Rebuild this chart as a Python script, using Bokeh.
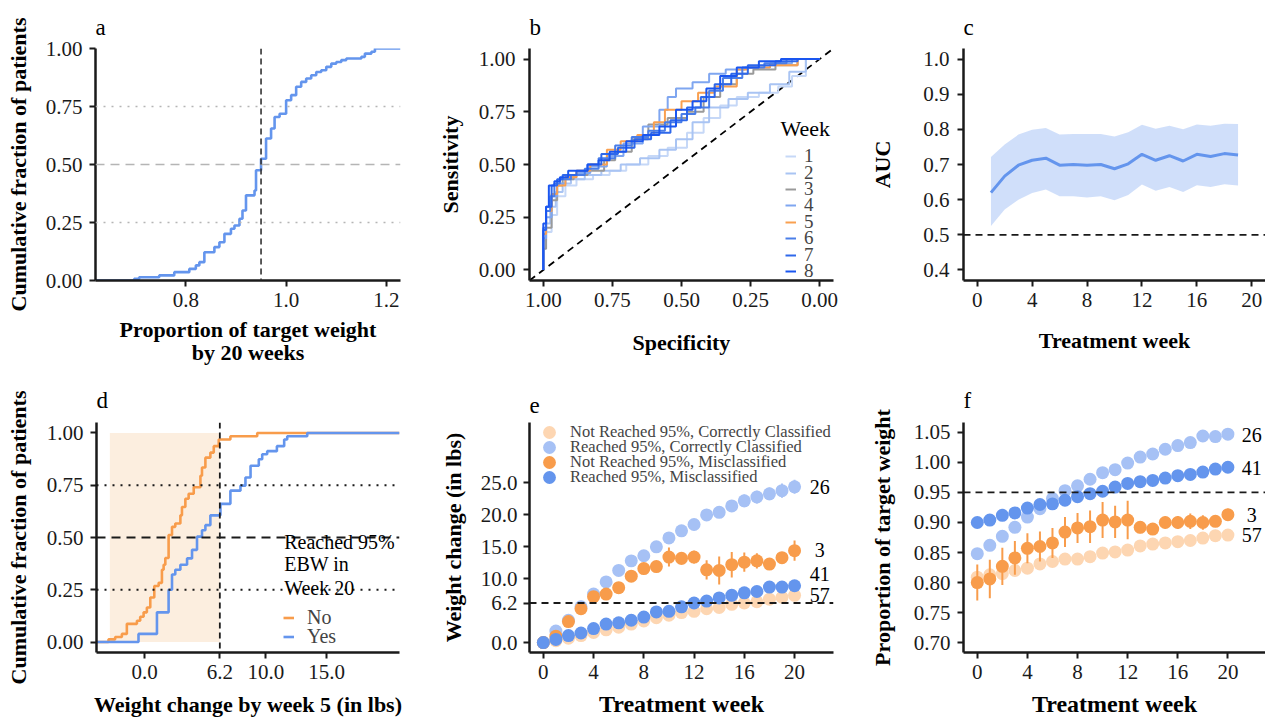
from bokeh.plotting import figure
from bokeh.layouts import row, column
from bokeh.models import (Range1d, Span, Legend, LegendItem, Label, FixedTicker,
                          PrintfTickFormatter)
from bokeh.core.properties import value
from bokeh.embed import file_html
from bokeh.resources import INLINE

FONT = "Liberation Serif"
INK = "#1a1a1a"
BLUE = "#6495ED"
LIGHT_BLUE = "#A6C1F5"
ORANGE = "#F89C4B"
PEACH = "#FDD6B2"
SHADE = "#FCEEDF"

# ---------------- panel a: ECDF of proportion of target weight ----------------
a_x = [0.697, 0.707, 0.747, 0.777, 0.807, 0.820, 0.827, 0.837, 0.857, 0.867, 0.877,
       0.890, 0.897, 0.907, 0.913, 0.920, 0.937, 0.940, 0.950, 0.960, 0.970, 0.977,
       0.987, 1.000, 1.010, 1.020, 1.030, 1.040, 1.050, 1.060, 1.070, 1.080, 1.090,
       1.100, 1.110, 1.120, 1.150, 1.157, 1.170, 1.177]
a_y = [0.007, 0.014, 0.022, 0.036, 0.050, 0.065, 0.079, 0.122, 0.144, 0.165, 0.201,
       0.223, 0.237, 0.266, 0.302, 0.367, 0.388, 0.475, 0.525, 0.612, 0.655, 0.705,
       0.719, 0.777, 0.799, 0.835, 0.856, 0.871, 0.885, 0.899, 0.906, 0.921, 0.935,
       0.942, 0.950, 0.957, 0.964, 0.978, 0.986, 1.000]
a_target = 0.95

# ---------------- panel b: ROC curves by week ----------------
roc_weeks = ["1", "2", "3", "4", "5", "6", "7", "8"]
roc_colors = ["#C6D8F7", "#A9C4F3", "#9A9A9A", "#7FA6F0", "#F9A050", "#4A7EE8", "#2F68EA", "#1A56F0"]
roc_spec = [
    [1.00, 0.99, 0.97, 0.95, 0.92, 0.88, 0.82, 0.76, 0.70, 0.62, 0.55, 0.48, 0.42, 0.36, 0.30, 0.22, 0.15, 0.10, 0.05, 0.00],
    [1.00, 0.99, 0.975, 0.955, 0.93, 0.90, 0.85, 0.79, 0.72, 0.65, 0.58, 0.52, 0.46, 0.40, 0.33, 0.26, 0.18, 0.11, 0.05, 0.00],
    [1.00, 0.99, 0.97, 0.95, 0.93, 0.89, 0.84, 0.78, 0.74, 0.68, 0.62, 0.55, 0.48, 0.42, 0.36, 0.30, 0.24, 0.16, 0.08, 0.00],
    [1.00, 0.99, 0.97, 0.95, 0.92, 0.88, 0.83, 0.77, 0.71, 0.64, 0.58, 0.55, 0.52, 0.46, 0.40, 0.34, 0.27, 0.18, 0.10, 0.00],
    [1.00, 0.99, 0.97, 0.95, 0.92, 0.88, 0.83, 0.77, 0.72, 0.66, 0.60, 0.56, 0.50, 0.44, 0.38, 0.30, 0.26, 0.18, 0.08, 0.00],
    [1.00, 0.99, 0.975, 0.96, 0.94, 0.90, 0.85, 0.80, 0.74, 0.68, 0.62, 0.56, 0.50, 0.45, 0.40, 0.35, 0.28, 0.20, 0.12, 0.00],
    [1.00, 0.99, 0.97, 0.95, 0.93, 0.88, 0.84, 0.79, 0.73, 0.67, 0.61, 0.54, 0.48, 0.43, 0.38, 0.32, 0.26, 0.16, 0.08, 0.00],
    [1.00, 0.99, 0.98, 0.96, 0.94, 0.91, 0.84, 0.80, 0.76, 0.70, 0.64, 0.58, 0.52, 0.46, 0.41, 0.36, 0.30, 0.22, 0.14, 0.00],
]
roc_sens = [
    [0.00, 0.10, 0.18, 0.26, 0.35, 0.40, 0.43, 0.45, 0.47, 0.50, 0.54, 0.58, 0.65, 0.72, 0.78, 0.82, 0.84, 0.87, 0.92, 1.00],
    [0.00, 0.14, 0.22, 0.30, 0.37, 0.41, 0.43, 0.45, 0.47, 0.50, 0.53, 0.57, 0.62, 0.70, 0.77, 0.81, 0.84, 0.88, 0.94, 1.00],
    [0.00, 0.10, 0.20, 0.33, 0.40, 0.43, 0.45, 0.47, 0.52, 0.56, 0.62, 0.69, 0.72, 0.75, 0.82, 0.88, 0.93, 0.95, 0.97, 1.00],
    [0.00, 0.15, 0.25, 0.35, 0.41, 0.44, 0.46, 0.49, 0.54, 0.60, 0.68, 0.76, 0.82, 0.86, 0.89, 0.93, 0.95, 0.96, 0.98, 1.00],
    [0.00, 0.17, 0.28, 0.36, 0.40, 0.44, 0.47, 0.50, 0.57, 0.61, 0.64, 0.70, 0.76, 0.80, 0.84, 0.87, 0.95, 0.96, 0.97, 1.00],
    [0.00, 0.20, 0.28, 0.35, 0.41, 0.43, 0.45, 0.48, 0.53, 0.59, 0.63, 0.66, 0.70, 0.74, 0.77, 0.85, 0.91, 0.96, 0.98, 1.00],
    [0.00, 0.19, 0.30, 0.40, 0.43, 0.45, 0.47, 0.50, 0.55, 0.58, 0.62, 0.65, 0.71, 0.77, 0.82, 0.88, 0.93, 0.97, 0.99, 1.00],
    [0.00, 0.22, 0.30, 0.40, 0.42, 0.44, 0.47, 0.50, 0.52, 0.56, 0.61, 0.64, 0.68, 0.76, 0.80, 0.86, 0.92, 0.96, 0.99, 1.00],
]
roc_legend_title = "Week"

# ---------------- panel c: AUC by treatment week ----------------
c_week = [1, 2, 3, 4, 5, 6, 7, 8, 9, 10, 11, 12, 13, 14, 15, 16, 17, 18, 19]
c_auc = [0.620, 0.667, 0.698, 0.712, 0.718, 0.698, 0.700, 0.698, 0.700, 0.688, 0.702,
         0.729, 0.712, 0.725, 0.710, 0.729, 0.723, 0.731, 0.727]
c_upper = [0.721, 0.757, 0.785, 0.799, 0.804, 0.785, 0.787, 0.787, 0.787, 0.780, 0.792,
           0.813, 0.802, 0.810, 0.800, 0.814, 0.810, 0.816, 0.815]
c_lower = [0.525, 0.572, 0.600, 0.619, 0.629, 0.610, 0.610, 0.606, 0.610, 0.598, 0.613,
           0.643, 0.625, 0.636, 0.622, 0.641, 0.636, 0.644, 0.640]
c_chance = 0.5

# ---------------- panel d: ECDF of week-5 weight change ----------------
d_no_x = [-2.97, -2.42, -1.87, -1.46, -0.63, -0.36, -0.08, 0.19, 0.47, 0.80, 1.16, 1.43,
          1.57, 1.71, 1.98, 2.26, 2.53, 2.95, 3.08, 3.36, 3.63, 4.05, 4.60, 4.73, 5.01,
          5.42, 5.70, 6.11, 7.07, 9.28]
d_no_y = [0.013, 0.024, 0.039, 0.087, 0.102, 0.121, 0.142, 0.165, 0.213, 0.268, 0.283,
          0.346, 0.370, 0.402, 0.512, 0.551, 0.567, 0.606, 0.646, 0.685, 0.709, 0.740,
          0.795, 0.835, 0.882, 0.906, 0.937, 0.969, 0.984, 1.000]
d_yes_x = [-0.50, 1.02, 1.98, 2.26, 2.53, 2.95, 3.50, 3.91, 4.32, 4.73, 5.01, 5.42, 6.25,
           7.07, 7.90, 8.31, 8.73, 9.41, 9.69, 10.1, 10.9, 11.5, 11.75, 13.4]
d_yes_y = [0.039, 0.142, 0.250, 0.323, 0.346, 0.370, 0.400, 0.441, 0.504, 0.535, 0.559,
           0.606, 0.661, 0.724, 0.748, 0.787, 0.843, 0.874, 0.898, 0.913, 0.937, 0.969,
           0.984, 1.000]
d_shade_left = -2.86
d_cutoff = 6.2
d_groups = ["No", "Yes"]
d_legend_title = ["Reached 95%", "EBW in", "Week 20"]
d_legend_title_y = [0.48, 0.373, 0.26]
d_legend_title_x = 11.5

# ---------------- panels e & f: trajectories by group ----------------
weeks = [0, 1, 2, 3, 4, 5, 6, 7, 8, 9, 10, 11, 12, 13, 14, 15, 16, 17, 18, 19, 20]
group_names = ["Not Reached 95%, Correctly Classified", "Reached 95%, Correctly Classified",
               "Not Reached 95%, Misclassified", "Reached 95%, Misclassified"]
group_colors = [PEACH, LIGHT_BLUE, ORANGE, BLUE]

e_means = [
    [0.0, 0.3, 0.7, 1.1, 1.6, 2.0, 2.4, 2.9, 3.4, 3.9, 4.3, 4.7, 4.9, 5.3, 5.5, 6.0, 6.2, 6.4, 6.8, 7.1, 7.4],
    [0.0, 1.8, 3.5, 5.6, 7.6, 9.5, 11.3, 12.8, 13.6, 15.0, 16.4, 17.5, 18.5, 20.0, 20.4, 21.4, 22.2, 22.8, 23.3, 23.8, 24.4],
    [0.0, 1.0, 3.3, 5.3, 7.2, 7.6, 8.6, 10.4, 11.6, 11.9, 13.4, 13.2, 13.4, 11.4, 11.3, 12.2, 12.6, 12.8, 12.3, 13.3, 14.4],
    [0.0, 0.5, 1.1, 1.5, 2.2, 2.9, 3.1, 3.5, 4.0, 4.8, 4.9, 5.6, 6.2, 6.5, 7.0, 7.4, 7.8, 8.0, 8.7, 8.7, 8.9],
]
e_errs = [
    [0.0, 0.1, 0.1, 0.2, 0.2, 0.2, 0.2, 0.3, 0.3, 0.3, 0.3, 0.3, 0.3, 0.3, 0.3, 0.4, 0.4, 0.4, 0.4, 0.4, 0.4],
    [0.0, 0.3, 0.4, 0.5, 0.6, 0.6, 0.6, 0.7, 0.7, 0.7, 0.8, 0.8, 0.8, 0.9, 0.9, 0.9, 1.0, 1.0, 1.0, 1.1, 1.1],
    [0.0, 0.3, 0.5, 0.6, 0.6, 0.6, 0.7, 0.9, 0.8, 0.8, 1.5, 1.0, 1.0, 1.5, 2.2, 2.0, 1.5, 1.2, 0.9, 0.8, 1.6],
    [0.0, 0.1, 0.2, 0.2, 0.3, 0.3, 0.3, 0.3, 0.3, 0.4, 0.4, 0.4, 0.4, 0.4, 0.4, 0.4, 0.5, 0.5, 0.5, 0.5, 0.5],
]
e_cutoff = 6.2
e_lab_x = [22, 22, 22, 22]
e_lab_y = [24.4, 14.5, 10.7, 7.4]
e_lab_txt = ["26", "3", "41", "57"]

f_means = [
    [0.809, 0.813, 0.815, 0.820, 0.824, 0.831, 0.835, 0.839, 0.839, 0.843, 0.849, 0.851, 0.854, 0.861, 0.864, 0.866, 0.868, 0.870, 0.874, 0.878, 0.879],
    [0.848, 0.862, 0.877, 0.892, 0.909, 0.923, 0.940, 0.953, 0.961, 0.972, 0.983, 0.988, 0.999, 1.009, 1.014, 1.022, 1.028, 1.033, 1.044, 1.043, 1.047],
    [0.800, 0.806, 0.827, 0.841, 0.857, 0.860, 0.866, 0.884, 0.891, 0.893, 0.904, 0.901, 0.904, 0.892, 0.889, 0.900, 0.900, 0.902, 0.900, 0.902, 0.913],
    [0.900, 0.904, 0.912, 0.916, 0.924, 0.930, 0.931, 0.937, 0.943, 0.948, 0.952, 0.959, 0.965, 0.968, 0.970, 0.974, 0.978, 0.980, 0.984, 0.989, 0.992],
]
f_errs = [
    [0.004, 0.004, 0.004, 0.004, 0.004, 0.004, 0.004, 0.004, 0.004, 0.004, 0.004, 0.004, 0.004, 0.004, 0.004, 0.004, 0.004, 0.004, 0.004, 0.004, 0.004],
    [0.008, 0.007, 0.007, 0.007, 0.007, 0.007, 0.006, 0.006, 0.006, 0.006, 0.006, 0.007, 0.006, 0.006, 0.006, 0.006, 0.006, 0.007, 0.005, 0.005, 0.005],
    [0.030, 0.032, 0.031, 0.028, 0.025, 0.025, 0.025, 0.025, 0.025, 0.027, 0.030, 0.027, 0.032, 0.010, 0.010, 0.010, 0.011, 0.013, 0.012, 0.009, 0.010],
    [0.004, 0.004, 0.004, 0.004, 0.004, 0.004, 0.004, 0.004, 0.004, 0.004, 0.004, 0.004, 0.004, 0.004, 0.004, 0.004, 0.004, 0.004, 0.004, 0.004, 0.004],
]
f_cutoff = 0.95
f_lab_x = [21.9, 21.9, 21.9, 21.9]
f_lab_y = [1.046, 0.990, 0.912, 0.879]
f_lab_txt = ["26", "41", "3", "57"]


# ---------------- helpers ----------------
def style_axis(ax, label, lab_size, ticks, fmt, s1, s2):
    ax.axis_label = label
    ax.axis_label_text_font = FONT
    ax.axis_label_text_font_style = "bold"
    ax.axis_label_text_font_size = lab_size
    ax.axis_label_text_color = "black"
    ax.axis_label_standoff = s2
    ax.major_label_standoff = s1
    ax.major_label_text_font = FONT
    ax.major_label_text_font_size = "21px"
    ax.major_label_text_color = INK
    ax.axis_line_width = 2.5
    ax.axis_line_color = INK
    ax.major_tick_line_width = 2
    ax.major_tick_line_color = INK
    ax.major_tick_in = 0
    ax.major_tick_out = 6
    ax.minor_tick_line_color = None
    ax.ticker = FixedTicker(ticks=ticks, minor_ticks=[])
    ax.formatter = PrintfTickFormatter(format=fmt)


def make(width, height, bl, br, bt, bb, xr, yr, letter, tstand):
    p = figure(width=width, height=height, x_range=Range1d(xr[0], xr[1]),
               y_range=Range1d(yr[0], yr[1]), output_backend="svg", toolbar_location=None,
               min_border_left=bl, min_border_right=br, min_border_top=bt,
               min_border_bottom=bb, title=letter)
    p.title.text_font = FONT
    p.title.text_font_size = "23px"
    p.title.text_font_style = "normal"
    p.title.text_color = "black"
    p.title.align = "left"
    p.title.standoff = tstand
    p.grid.visible = False
    p.outline_line_color = None
    p.background_fill_color = "white"
    p.border_fill_color = "white"
    return p


def hspan(p, y, color, dash, width=1.8):
    p.add_layout(Span(location=y, dimension="width", line_color=color,
                      line_dash=dash, line_width=width))


def vspan(p, x, color, dash, width=1.8):
    p.add_layout(Span(location=x, dimension="height", line_color=color,
                      line_dash=dash, line_width=width))


def item_legend(p, label, rend, x, y, gw, gh, size, standoff):
    p.add_layout(Legend(items=[LegendItem(label=label, renderers=[rend])], location=(x, y),
                        glyph_width=gw, glyph_height=gh, label_height=gh, spacing=0,
                        padding=0, margin=0, label_standoff=standoff, label_text_font=FONT,
                        label_text_font_size=size, background_fill_alpha=0,
                        border_line_alpha=0))


R1H, R2H = 376, 344
W1, W2, W3 = 420, 430, 415
F2_H = 230

# ---------- a ----------
pa = make(W1, R1H, 95, 20, 48, 96, (0.62, 1.228), (0.0, 1.0), "a", 17)
style_axis(pa.yaxis[0], "Cumulative fraction of patients", "22px",
           [0, 0.25, 0.5, 0.75, 1.0], "%.2f", 7, 12)
style_axis(pa.xaxis[0], "Proportion of target weight\nby 20 weeks", "22px",
           [0.8, 1.0, 1.2], "%.1f", 6, 7)
pa.xaxis[0].axis_label_text_line_height = 0.95
hspan(pa, 0.25, "#b5b5b5", "2 6", 1.6)
hspan(pa, 0.75, "#b5b5b5", "2 6", 1.6)
hspan(pa, 0.5, "#b5b5b5", "9 6", 1.6)
vspan(pa, a_target, "#333333", "6 4", 1.6)
pa.step(x=[pa.x_range.start] + a_x + [pa.x_range.end], y=[0.0] + a_y + [a_y[-1]],
        mode="after", line_color=BLUE, line_width=2.6)

# ---------- b ----------
pb = make(W2, R1H, 109, 17, 48, 96, (1.05, -0.05), (-0.05, 1.05), "b", 17)
style_axis(pb.yaxis[0], "Sensitivity", "22px", [0, 0.25, 0.5, 0.75, 1.0], "%.2f", 8, 13)
style_axis(pb.xaxis[0], "Specificity", "22px", [0, 0.25, 0.5, 0.75, 1.0], "%.2f", 6, 20)
pb.line(x=[1.05, -0.05], y=[-0.05, 1.05], line_color="black", line_dash="7 5", line_width=1.8)
b_rends = []
for wk, col, sx, sy in zip(roc_weeks, roc_colors, roc_spec, roc_sens):
    b_rends.append(pb.step(x=sx, y=sy, mode="before", line_color=col, line_width=2))
b_item_pitch = 16.4
for i, (wk, r) in enumerate(zip(roc_weeks, b_rends)):
    centre = 9 + (len(roc_weeks) - 1 - i) * b_item_pitch
    item_legend(pb, wk, r, 256, centre - 11, 11, 16, "19px", 8)
pb.add_layout(Label(x=0.1415, y=0.67, text=roc_legend_title, text_font=FONT,
                    text_font_size="22px", text_baseline="middle", text_align="left",
                    text_color="black"))

# ---------- c ----------
pc = make(W3, R1H, 113, 0, 48, 96, (-1.0, 21.0), (0.37, 1.03), "c", 17)
style_axis(pc.yaxis[0], "AUC", "22px", [0.4, 0.5, 0.6, 0.7, 0.8, 0.9, 1.0], "%.1f", 8, 25)
style_axis(pc.xaxis[0], "Treatment week", "22px", [0, 4, 8, 12, 16, 20], "%d", 6, 18)
pc.varea(x=c_week, y1=c_lower, y2=c_upper, fill_color=BLUE, fill_alpha=0.3)
pc.line(x=c_week, y=c_auc, line_color=BLUE, line_width=3)
hspan(pc, c_chance, "#1a1a1a", "7 5", 1.8)

# ---------- d ----------
pd_ = make(W1, R2H, 96, 21, 46, 68, (-3.96, 21.0), (-0.05, 1.05), "d", 19)
style_axis(pd_.yaxis[0], "Cumulative fraction of patients", "22px",
           [0, 0.25, 0.5, 0.75, 1.0], "%.2f", 7, 13)
style_axis(pd_.xaxis[0], "Weight change by week 5 (in lbs)", "22px",
           [0, 6.2, 10, 15], "%.1f", 6, 10)
pd_.quad(left=[d_shade_left], right=[d_cutoff], bottom=[0.0], top=[1.0],
         fill_color=SHADE, line_color=None)
hspan(pd_, 0.25, "#1a1a1a", "2 6", 1.8)
hspan(pd_, 0.75, "#1a1a1a", "2 6", 1.8)
hspan(pd_, 0.5, "#1a1a1a", "9 6", 1.8)
vspan(pd_, d_cutoff, "#1a1a1a", "6 4", 1.8)
r_no = pd_.step(x=[pd_.x_range.start] + d_no_x + [pd_.x_range.end], y=[0.0] + d_no_y + [1.0],
                mode="after", line_color=ORANGE, line_width=2.6)
r_yes = pd_.step(x=[pd_.x_range.start] + d_yes_x + [pd_.x_range.end], y=[0.0] + d_yes_y + [1.0],
                 mode="after", line_color=BLUE, line_width=2.6)
for txt, yy in zip(d_legend_title, d_legend_title_y):
    pd_.add_layout(Label(x=d_legend_title_x, y=yy, text=txt, text_font=FONT,
                         text_font_size="20px", text_baseline="middle", text_align="left",
                         text_color="black"))
item_legend(pd_, d_groups[0], r_no, 187, 35 - 11.5, 11, 19, "20px", 13)
item_legend(pd_, d_groups[1], r_yes, 187, 16 - 11.5, 11, 19, "20px", 13)

# ---------- e ----------
pe = make(W2, R2H, 109, 17, 46, 68, (-1.1, 23.1), (-1.55, 34.47), "e", 19)
style_axis(pe.yaxis[0], "Weight change (in lbs)", "22px", [0, 6.2, 10, 15, 20, 25], "%.1f", 6, 12)
style_axis(pe.xaxis[0], "Treatment week", "24px", [0, 4, 8, 12, 16, 20], "%d", 6, 9)
hspan(pe, e_cutoff, "#1a1a1a", "7 5", 1.8)
e_rends = []
for name, col, m, er in zip(group_names, group_colors, e_means, e_errs):
    pe.segment(x0=weeks, x1=weeks, y0=[a - b for a, b in zip(m, er)],
               y1=[a + b for a, b in zip(m, er)], line_color=col, line_width=2)
    e_rends.append(pe.scatter(x=weeks, y=m, size=13, fill_color=col, line_color=None))
pe.text(x=e_lab_x, y=e_lab_y, text=e_lab_txt, text_font=value(FONT), text_font_size="20px",
        text_align="center", text_baseline="middle", text_color="black")
e_pitch = 15
for i, (name, r) in enumerate(zip(group_names, e_rends)):
    centre_from_top = 10 + i * e_pitch
    item_legend(pe, name, r, 4, F2_H - centre_from_top - 16, 32, 32, "16.5px", 5)

# ---------- f ----------
pf = make(W3, R2H, 113, 0, 46, 68, (-1.1, 23.0), (0.6835, 1.0665), "f", 19)
style_axis(pf.yaxis[0], "Proportion of target weight", "22px",
           [0.70, 0.75, 0.80, 0.85, 0.90, 0.95, 1.00, 1.05], "%.2f", 7, 16)
style_axis(pf.xaxis[0], "Treatment week", "24px", [0, 4, 8, 12, 16, 20], "%d", 6, 9)
hspan(pf, f_cutoff, "#1a1a1a", "7 5", 1.8)
for name, col, m, er in zip(group_names, group_colors, f_means, f_errs):
    pf.segment(x0=weeks, x1=weeks, y0=[a - b for a, b in zip(m, er)],
               y1=[a + b for a, b in zip(m, er)], line_color=col, line_width=2)
    pf.scatter(x=weeks, y=m, size=13, fill_color=col, line_color=None)
pf.text(x=f_lab_x, y=f_lab_y, text=f_lab_txt, text_font=value(FONT), text_font_size="20px",
        text_align="center", text_baseline="middle", text_color="black")

layout = column(row(pa, pb, pc, spacing=0), row(pd_, pe, pf, spacing=0), spacing=0)
open("out.html", "w").write(file_html(layout, INLINE))
